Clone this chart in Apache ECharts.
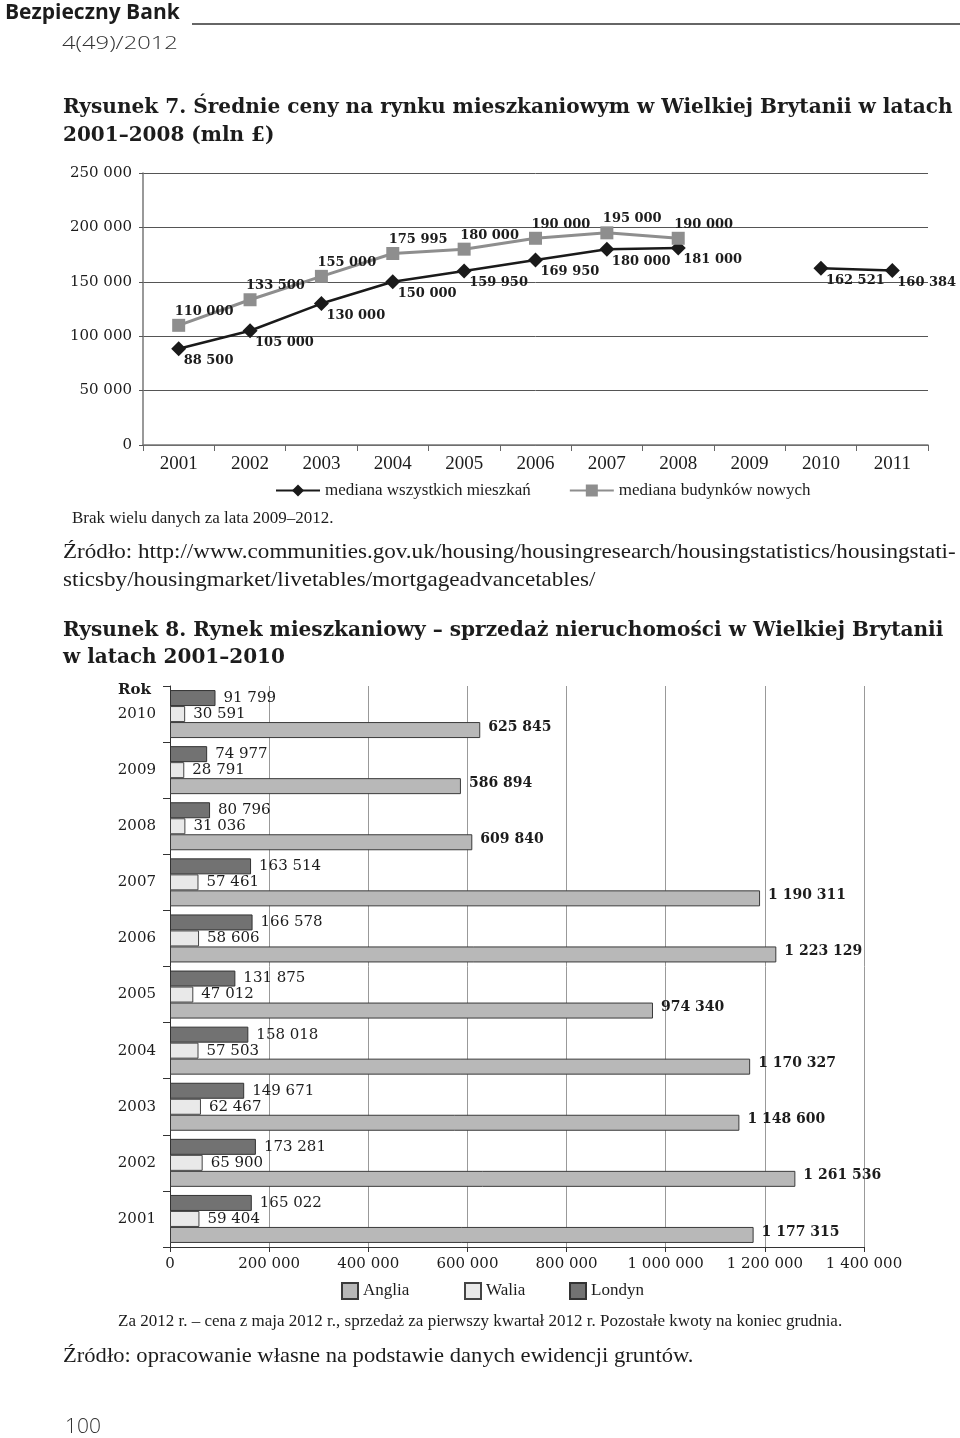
<!DOCTYPE html>
<html><head><meta charset="utf-8">
<script src="https://cdn.jsdelivr.net/npm/echarts@6/dist/echarts.min.js"></script>
<style>html,body{margin:0;padding:0;background:#fff}#c{width:960px;height:1438px}</style>
</head><body><div id="c"></div>
<script>
// ---- Chart 1 data ----
const years1 = ['2001','2002','2003','2004','2005','2006','2007','2008','2009','2010','2011'];
const allDwellings = [88500,105000,130000,150000,159950,169950,180000,181000,null,162521,160384];
const newBuildings = [110000,133500,155000,175995,180000,190000,195000,190000,null,null,null];
// ---- Chart 2 data ----
const years2 = ['2001','2002','2003','2004','2005','2006','2007','2008','2009','2010'];
const anglia = [1177315,1261536,1148600,1170327,974340,1223129,1190311,609840,586894,625845];
const walia  = [59404,65900,62467,57503,47012,58606,57461,31036,28791,30591];
const londyn = [165022,173281,149671,158018,131875,166578,163514,80796,74977,91799];

const fmt = v => String(v).replace(/\B(?=(\d{3})+(?!\d))/g, ' ');
const WIDE = '"DejaVu Serif", serif';
const COND = '"Liberation Serif", serif';
const SANS = '"Open Sans", sans-serif';
const INK = '#1c1c1c';

function txt(x, y, text, font, sx, fill) {
  return {type:'text', x:x, y:y, scaleX:sx||1, originX:0, originY:0,
          style:{text:text, font:font, fill:fill||INK, verticalAlign:'middle', align:'left'}};
}

const chart = echarts.init(document.getElementById('c'), null, {renderer:'canvas'});
chart.setOption({
  animation:false,
  backgroundColor:'#fff',
  grid:[
    {left:143, top:173, width:785, height:272},
    {left:170, top:686, width:694, height:561}
  ],
  xAxis:[
    {gridIndex:0, type:'category', data:years1, boundaryGap:true,
     axisLine:{lineStyle:{color:'#777', width:1.5}},
     axisTick:{show:true, length:6, lineStyle:{color:'#666'}},
     axisLabel:{color:INK, fontFamily:COND, fontSize:19, margin:10}},
    {gridIndex:1, type:'value', min:0, max:1400000, interval:200000,
     axisLine:{show:true, lineStyle:{color:'#333', width:1}},
     axisTick:{show:true, length:5, lineStyle:{color:'#333'}},
     splitLine:{show:true, lineStyle:{color:'#999', width:1}},
     axisLabel:{color:INK, fontFamily:WIDE, fontSize:15, margin:10, formatter:fmt}}
  ],
  yAxis:[
    {gridIndex:0, type:'value', min:0, max:250000, interval:50000,
     axisLine:{show:true, lineStyle:{color:'#777', width:1.5}},
     axisTick:{show:true, length:4, lineStyle:{color:'#555'}},
     splitLine:{show:true, lineStyle:{color:'#555', width:1}},
     axisLabel:{color:INK, fontFamily:WIDE, fontSize:15, margin:11, formatter:fmt}},
    {gridIndex:1, type:'category', data:years2,
     axisLine:{show:true, lineStyle:{color:'#333', width:1}},
     axisTick:{show:true, length:7, lineStyle:{color:'#333'}},
     splitLine:{show:false},
     axisLabel:{color:INK, fontFamily:WIDE, fontSize:15, margin:14}}
  ],
  legend:[
    {data:['mediana wszystkich mieszkań','mediana budynków nowych'], left:275, top:482, padding:0,
     itemWidth:44, itemHeight:15, itemGap:38, selectedMode:false,
     textStyle:{color:INK, fontFamily:COND, fontSize:17}},
    {data:['Anglia'], left:341, top:1282, padding:0, icon:'rect', itemWidth:16, itemHeight:16, selectedMode:false,
     textStyle:{color:INK, fontFamily:COND, fontSize:17}},
    {data:['Walia'], left:464, top:1282, padding:0, icon:'rect', itemWidth:16, itemHeight:16, selectedMode:false,
     textStyle:{color:INK, fontFamily:COND, fontSize:17}},
    {data:['Londyn'], left:569, top:1282, padding:0, icon:'rect', itemWidth:16, itemHeight:16, selectedMode:false,
     textStyle:{color:INK, fontFamily:COND, fontSize:17}}
  ],
  series:[
    {name:'mediana wszystkich mieszkań', type:'line', xAxisIndex:0, yAxisIndex:0, data:allDwellings,
     symbol:'diamond', symbolSize:15, connectNulls:false,
     lineStyle:{color:'#1a1a1a', width:2.5}, itemStyle:{color:'#1a1a1a'},
     label:{show:true, position:[12.5,19.5], align:'left', verticalAlign:'middle',
            fontFamily:WIDE, fontWeight:'bold', fontSize:13, color:INK, formatter:p=>fmt(p.value)}},
    {name:'mediana budynków nowych', type:'line', xAxisIndex:0, yAxisIndex:0, data:newBuildings,
     symbol:'rect', symbolSize:13, connectNulls:false,
     lineStyle:{color:'#8e8e8e', width:3}, itemStyle:{color:'#8e8e8e'},
     label:{show:true, position:[2.5,-7.5], align:'left', verticalAlign:'middle',
            fontFamily:WIDE, fontWeight:'bold', fontSize:13, color:INK, formatter:p=>fmt(p.value)}},
    {name:'Londyn', type:'bar', xAxisIndex:1, yAxisIndex:1, data:londyn, barWidth:16, barGap:'0%',
     itemStyle:{color:'#727272', borderColor:'#333', borderWidth:1},
     label:{show:true, position:'right', distance:8, fontFamily:WIDE, fontSize:15, color:INK, formatter:p=>fmt(p.value)}},
    {name:'Walia', type:'bar', xAxisIndex:1, yAxisIndex:1, data:walia, barWidth:16, barGap:'0%',
     itemStyle:{color:'#e9e9e9', borderColor:'#444', borderWidth:1},
     label:{show:true, position:'right', distance:8, fontFamily:WIDE, fontSize:15, color:INK, formatter:p=>fmt(p.value)}},
    {name:'Anglia', type:'bar', xAxisIndex:1, yAxisIndex:1, data:anglia, barWidth:16, barGap:'0%',
     itemStyle:{color:'#b8b8b8', borderColor:'#3a3a3a', borderWidth:1},
     label:{show:true, position:'right', distance:8, offset:[0,-3], fontFamily:WIDE, fontWeight:'bold', fontSize:14, color:INK, formatter:p=>fmt(p.value)}}
  ],
  graphic:[
    txt(5, 13, 'Bezpieczny Bank', 'bold 21px ' + SANS),
    {type:'line', shape:{x1:192, y1:24, x2:960, y2:24}, style:{stroke:'#333', lineWidth:1.5}},
    txt(62, 44, '4(49)/2012', '300 19px ' + SANS, 1.25, '#333'),
    txt(63, 108, 'Rysunek 7. Średnie ceny na rynku mieszkaniowym w Wielkiej Brytanii w latach', 'bold 20px ' + WIDE, 1.005),
    txt(63, 136, '2001–2008 (mln £)', 'bold 20px ' + WIDE),
    txt(72, 519, 'Brak wielu danych za lata 2009–2012.', '17px ' + COND),
    txt(63, 552, 'Źródło: http://www.communities.gov.uk/housing/housingresearch/housingstatistics/housingstati-', '21px ' + COND, 1.1),
    txt(63, 580, 'sticsby/housingmarket/livetables/mortgageadvancetables/', '21px ' + COND, 1.1),
    txt(63, 631, 'Rysunek 8. Rynek mieszkaniowy – sprzedaż nieruchomości w Wielkiej Brytanii', 'bold 20px ' + WIDE, 1.005),
    txt(63, 658, 'w latach 2001–2010', 'bold 20px ' + WIDE),
    txt(118, 690, 'Rok', 'bold 15px ' + WIDE),
    txt(118, 1322, 'Za 2012 r. – cena z maja 2012 r., sprzedaż za pierwszy kwartał 2012 r. Pozostałe kwoty na koniec grudnia.', '17px ' + COND),
    txt(63, 1356, 'Źródło: opracowanie własne na podstawie danych ewidencji gruntów.', '21px ' + COND, 1.075),
    txt(65, 1427, '100', '300 21px ' + SANS, 1, '#333')
  ]
});
</script></body></html>
